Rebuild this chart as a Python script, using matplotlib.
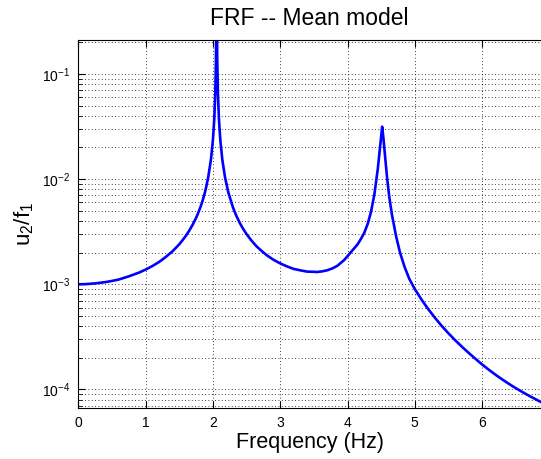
import numpy as np
import matplotlib
matplotlib.use("Agg")
import matplotlib.pyplot as plt
from matplotlib.ticker import LogLocator, NullFormatter

# values (Hz, u2/f1)
freq = [0.00, 0.10, 0.25, 0.40, 0.50, 0.60, 0.75, 0.90, 1.00, 1.10,
        1.20, 1.30, 1.40, 1.50, 1.55, 1.60, 1.65, 1.70, 1.75, 1.78,
        1.82, 1.85, 1.88, 1.90, 1.93, 1.97, 2.00, 2.02, 2.035, 2.045,
        2.055, 2.065, 2.075, 2.09, 2.11, 2.14, 2.18, 2.23, 2.30, 2.35,
        2.40, 2.45, 2.50, 2.58, 2.65, 2.72, 2.80, 2.90, 3.00, 3.10,
        3.20, 3.30, 3.40, 3.47, 3.55, 3.62, 3.70, 3.78, 3.85, 3.95,
        4.00, 4.05, 4.10, 4.15, 4.20, 4.25, 4.30, 4.35, 4.40, 4.45,
        4.49, 4.515, 4.535, 4.56, 4.59, 4.62, 4.66, 4.72, 4.78, 4.85,
        4.92, 5.00, 5.10, 5.20, 5.30, 5.40, 5.50, 5.60, 5.70, 5.80,
        5.90, 6.00, 6.10, 6.20, 6.30, 6.40, 6.50, 6.60, 6.70, 6.80,
        6.90]
amp = [1.00e-3, 1.003e-3, 1.02e-3, 1.048e-3, 1.076e-3, 1.11e-3, 1.19e-3, 1.29e-3, 1.38e-3, 1.49e-3,
       1.63e-3, 1.82e-3, 2.06e-3, 2.40e-3, 2.63e-3, 2.90e-3, 3.25e-3, 3.69e-3, 4.28e-3, 4.74e-3,
       5.53e-3, 6.34e-3, 7.41e-3, 8.37e-3, 1.04e-2, 1.52e-2, 2.35e-2, 3.69e-2, 6.47e-2, 1.30e-1,
       6.0e-1, 1.29e-1, 6.47e-2, 3.70e-2, 2.35e-2, 1.53e-2, 1.04e-2, 7.43e-3, 5.33e-3, 4.45e-3,
       3.82e-3, 3.36e-3, 3.00e-3, 2.57e-3, 2.29e-3, 2.085e-3, 1.89e-3, 1.71e-3, 1.58e-3, 1.48e-3,
       1.40e-3, 1.357e-3, 1.32e-3, 1.316e-3, 1.31e-3, 1.326e-3, 1.36e-3, 1.42e-3, 1.50e-3, 1.70e-3,
       1.85e-3, 2.02e-3, 2.20e-3, 2.40e-3, 2.70e-3, 3.10e-3, 3.75e-3, 4.90e-3, 7.20e-3, 1.25e-2,
       2.20e-2, 3.15e-2, 2.40e-2, 1.60e-2, 1.00e-2, 6.80e-3, 4.60e-3, 2.90e-3, 2.00e-3, 1.45e-3,
       1.12e-3, 9.0e-4, 7.15e-4, 5.8e-4, 4.8e-4, 4.02e-4, 3.42e-4, 2.94e-4, 2.55e-4, 2.23e-4,
       1.96e-4, 1.73e-4, 1.54e-4, 1.38e-4, 1.245e-4, 1.13e-4, 1.03e-4, 9.45e-5, 8.7e-5, 8.05e-5,
       7.45e-5]

xticks = [0, 1, 2, 3, 4, 5, 6]

plt.rcParams['font.family'] = ['Liberation Sans', 'DejaVu Sans']
plt.rcParams['mathtext.fontset'] = 'custom'
plt.rcParams['mathtext.rm'] = 'Liberation Sans'
plt.rcParams['mathtext.it'] = 'Liberation Sans'

fig = plt.figure(figsize=(5.41, 4.59), dpi=100)
ax = fig.add_axes([78.3 / 541, 51 / 459, 1 - 78.3 / 541, 368 / 459])

ax.semilogy(freq, amp, color=(0, 0, 1), lw=1.9)

ax.set_xlim(0, 6.875)
ax.set_ylim(6.67e-5, 0.21)
ax.set_xticks(xticks)
ax.yaxis.set_major_locator(LogLocator(base=10, numticks=10))
ax.yaxis.set_minor_locator(LogLocator(base=10, subs=np.arange(2, 10), numticks=20))
ax.yaxis.set_minor_formatter(NullFormatter())

dot = (0, (1, 3))
ax.grid(True, which='major', axis='both', color='black', lw=0.6, linestyle=dot)
ax.grid(True, which='minor', axis='y', color='black', lw=0.6, linestyle=dot)

ax.tick_params(which='both', direction='in', top=True, right=False, labelsize=10, pad=6)
ax.tick_params(which='major', length=5, width=0.8)
ax.tick_params(which='minor', length=3, width=0.6)
ax.spines['right'].set_visible(False)

ax.set_title('FRF -- Mean model', fontsize=16.5, pad=11)
ax.set_xlabel('Frequency (Hz)', fontsize=15.5, labelpad=1)
ax.set_ylabel(r'u$_2$/f$_1$', fontsize=16, labelpad=4)

fig.savefig('out.png', dpi=100)
